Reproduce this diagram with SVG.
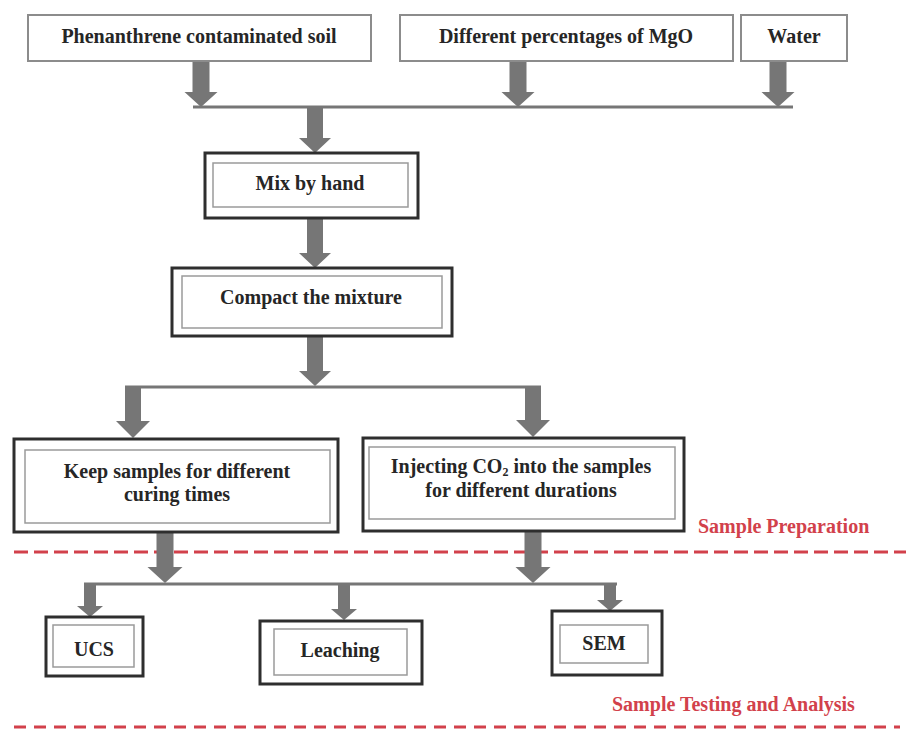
<svg xmlns="http://www.w3.org/2000/svg" width="906" height="735" viewBox="0 0 906 735">
<style>
.t{font-family:"Liberation Serif","Times New Roman",serif;font-weight:bold;font-size:20px;fill:#262626;text-anchor:middle}
.r{font-family:"Liberation Serif","Times New Roman",serif;font-weight:bold;font-size:20px;fill:#d2414b}
.plain{fill:#fff;stroke:#8c8c8c;stroke-width:2}
.outer{fill:#fff;stroke:#2e2e2e;stroke-width:3}
.inner{fill:none;stroke:#9a9a9a;stroke-width:1.5}
.arrow{fill:#767676;stroke:none}
.bar{stroke:#767676;stroke-width:3;fill:none}
.dash{stroke:#d2414b;stroke-width:3;fill:none}
</style>
<rect width="906" height="735" fill="#fff"/>
<g id="separators">
<line class="dash" x1="14" y1="552" x2="906" y2="552" stroke-dasharray="14 6"/>
<line class="dash" x1="14" y1="727" x2="900" y2="727" stroke-dasharray="12 8"/>
<text class="r" x="698" y="533">Sample Preparation</text>
<text class="r" x="612" y="711">Sample Testing and Analysis</text>
</g>
<g id="connectors">
<polygon class="arrow" points="192.5,61 209.5,61 209.5,92 217.5,92 201,107 184.5,92 192.5,92"/>
<polygon class="arrow" points="509.5,61 526.5,61 526.5,92 534.5,92 518,107 501.5,92 509.5,92"/>
<polygon class="arrow" points="769.5,61 786.5,61 786.5,92 794.5,92 778,107 761.5,92 769.5,92"/>
<line class="bar" x1="193" y1="107" x2="793" y2="107"/>
<polygon class="arrow" points="307,107 323,107 323,138 331,138 315,153 299,138 307,138"/>
<polygon class="arrow" points="307,218 323,218 323,253 331,253 315,268 299,253 307,253"/>
<polygon class="arrow" points="307,336 323,336 323,371 331,371 315,386 299,371 307,371"/>
<line class="bar" x1="125" y1="387" x2="541" y2="387"/>
<polygon class="arrow" points="125,387 141,387 141,421 150,421 133,438 116,421 125,421"/>
<polygon class="arrow" points="525,387 541,387 541,420 550,420 533,437 516,420 525,420"/>
<polygon class="arrow" points="156.5,532 173.5,532 173.5,567 182.5,567 165,583 147.5,567 156.5,567"/>
<polygon class="arrow" points="524.5,531 541.5,531 541.5,567 550.5,567 533,583 515.5,567 524.5,567"/>
<line class="bar" x1="84" y1="584" x2="617" y2="584"/>
<polygon class="arrow" points="84,584 96,584 96,606 103,606 90,617 77,606 84,606"/>
<polygon class="arrow" points="338,584 350,584 350,609 357,609 344,620 331,609 338,609"/>
<polygon class="arrow" points="604,584 616,584 616,600 623,600 610,611 597,600 604,600"/>
</g>
<g id="soil">
<rect class="plain" x="28" y="15" width="343" height="46"/>
<text class="t" x="199" y="43">Phenanthrene contaminated soil</text>
</g>
<g id="mgo">
<rect class="plain" x="400" y="15" width="333" height="46"/>
<text class="t" x="566" y="43">Different percentages of MgO</text>
</g>
<g id="water">
<rect class="plain" x="741" y="15" width="106" height="46"/>
<text class="t" x="794" y="43">Water</text>
</g>
<g id="mix">
<rect class="outer" x="205" y="153" width="213" height="65"/>
<rect class="inner" x="213" y="163" width="195" height="44"/>
<text class="t" x="310" y="190">Mix by hand</text>
</g>
<g id="compact">
<rect class="outer" x="172" y="268" width="280" height="68"/>
<rect class="inner" x="182" y="276" width="260" height="52"/>
<text class="t" x="311" y="304">Compact the mixture</text>
</g>
<g id="keep">
<rect class="outer" x="14" y="439" width="324" height="93"/>
<rect class="inner" x="25" y="450" width="305" height="73"/>
<text class="t" x="177" y="478">Keep samples for different</text>
<text class="t" x="177" y="501">curing times</text>
</g>
<g id="inject">
<rect class="outer" x="363" y="438" width="321" height="93"/>
<rect class="inner" x="369" y="447" width="306" height="72"/>
<text class="t" x="521" y="473">Injecting CO<tspan font-size="12" dy="3">2</tspan><tspan dy="-3"> into the samples</tspan></text>
<text class="t" x="521" y="497">for different durations</text>
</g>
<g id="ucs">
<rect class="outer" x="46" y="617" width="97" height="59"/>
<rect class="inner" x="53" y="625" width="81" height="42"/>
<text class="t" x="94" y="656">UCS</text>
</g>
<g id="leaching">
<rect class="outer" x="260" y="621" width="162" height="63"/>
<rect class="inner" x="274" y="629" width="133" height="46"/>
<text class="t" x="340" y="657">Leaching</text>
</g>
<g id="sem">
<rect class="outer" x="552" y="611" width="110" height="64"/>
<rect class="inner" x="560" y="625" width="88" height="38"/>
<text class="t" x="604" y="650">SEM</text>
</g>
</svg>
